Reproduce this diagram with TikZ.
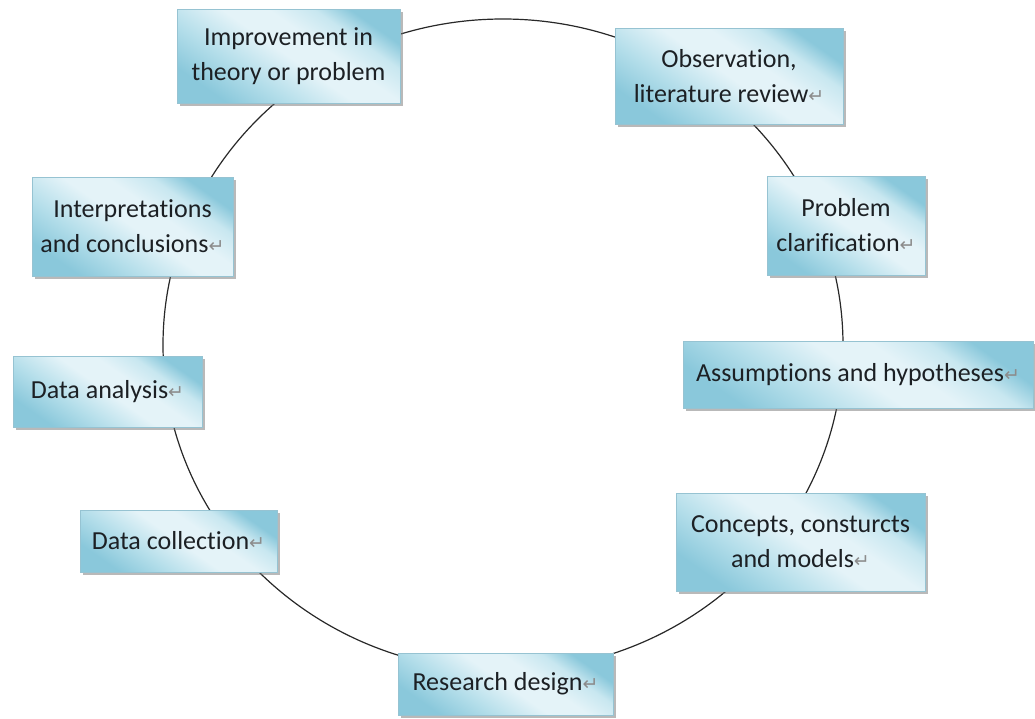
\documentclass[tikz,border=0pt]{standalone}
\usepackage{fontspec}
\setmainfont{Carlito}[RawFeature={-liga;-clig;-dlig}]
\newfontfamily\dejavu{DejaVu Sans}
\usetikzlibrary{shadows}
\definecolor{bdark}{RGB}{138,200,219}
\definecolor{bmid}{RGB}{180,222,234}
\definecolor{blight}{RGB}{228,243,248}
\definecolor{bsoft}{RGB}{200,231,240}
\definecolor{bedge}{RGB}{150,195,210}
\definecolor{txt}{RGB}{28,32,36}
\definecolor{ringc}{RGB}{40,40,40}
\pgfdeclareverticalshading{stageshade}{100bp}{%
  color(0bp)=(bdark); color(25bp)=(bdark); color(37bp)=(bmid);
  color(50bp)=(blight); color(59bp)=(blight); color(68bp)=(bsoft); color(75bp)=(bdark); color(100bp)=(bdark)}
\newcommand{\pmark}{{\dejavu\fontsize{19}{19}\selectfont\textcolor{black!45}{↵}}}
\tikzset{
  stagebox/.style={rectangle, draw=bedge, line width=0.6pt, inner sep=0pt,
    shade, shading=stageshade, shading angle=-35,
    drop shadow={shadow xshift=2.5pt, shadow yshift=-3pt, fill=black!55, opacity=0.5},
    text=txt, align=center, font=\fontsize{26}{35}\selectfont},
  ring/.style={draw=ringc, line width=1.2pt}
}
\begin{document}
\begin{tikzpicture}[x=1pt,y=-1pt]
\useasboundingbox (0,0) rectangle (1035,718);
\draw[ring] (503,345) ellipse [x radius=340pt, y radius=326pt];
\node[stagebox, minimum width=223pt, minimum height=94pt] (imp) at (288.5,56) {Improvement in\\theory or problem};
\node[stagebox, minimum width=228pt, minimum height=96pt] (obs) at (729,76) {Observation,\\literature review\pmark};
\node[stagebox, minimum width=158pt, minimum height=99pt] (prob) at (846,225.5) {Problem\\clarification\pmark};
\node[stagebox, minimum width=350pt, minimum height=67pt] (ass) at (858,374.5) {Assumptions and hypotheses\pmark};
\node[stagebox, minimum width=249pt, minimum height=98pt] (con) at (800.5,542) {Concepts, consturcts\\and models\pmark};
\node[stagebox, minimum width=215pt, minimum height=62pt] (res) at (505.5,684) {Research design\pmark};
\node[stagebox, minimum width=197pt, minimum height=62pt] (dcol) at (178.5,541) {Data collection\pmark};
\node[stagebox, minimum width=189pt, minimum height=71pt] (dan) at (107.5,391.5) {Data analysis\pmark};
\node[stagebox, minimum width=201pt, minimum height=99pt] (int) at (132.5,226.5) {Interpretations\\and conclusions\pmark};
\end{tikzpicture}
\end{document}
